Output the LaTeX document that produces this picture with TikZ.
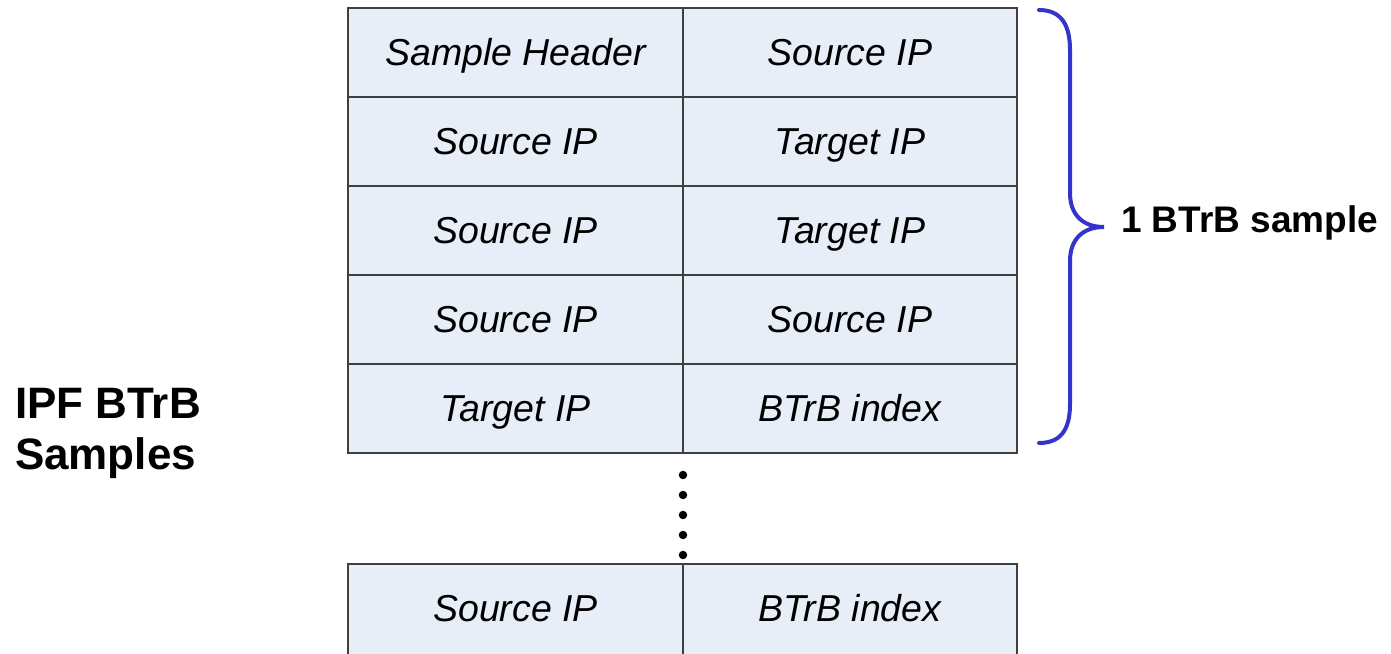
\documentclass[tikz,border=0pt]{standalone}
\usepackage{fontspec}
\setmainfont{Liberation Sans}
\definecolor{cellfill}{HTML}{E8EEF8}
\definecolor{cellline}{HTML}{3F3F3F}
\definecolor{bracecol}{HTML}{3434CC}
\begin{document}
\begin{tikzpicture}[x=1pt,y=-1pt,
  cell/.style={draw=cellline, fill=cellfill, line width=1.3pt, inner sep=0pt, outer sep=0pt,
    minimum height=89pt, anchor=north west, text height=26.5pt, text depth=0pt,
    font=\fontsize{37.5}{42}\selectfont\itshape},
  lcol/.style={cell, minimum width=335pt},
  rcol/.style={cell, minimum width=334pt},
  celltext/.style={inner sep=0pt, text height=26.5pt, text depth=0pt, font=\fontsize{37.5}{42}\selectfont\itshape},
  bigbold/.style={inner sep=0pt, outer sep=0pt, font=\fontsize{44}{51}\selectfont\bfseries},
  bracelbl/.style={inner sep=0pt, outer sep=0pt, font=\fontsize{37}{42}\selectfont\bfseries},
  dot/.style={circle, fill=black, inner sep=0pt, minimum size=8.5pt},
  bracepath/.style={draw=bracecol, line width=4pt, line cap=round}
]
\useasboundingbox (0,0) rectangle (1391,653);
\fill[white] (0,0) rectangle (1391,653);

% main table
\node[lcol] (r1a) at (348,8)   {Sample Header};
\node[rcol] (r1b) at (683,8)   {Source IP};
\node[lcol] (r2a) at (348,97)  {Source IP};
\node[rcol] (r2b) at (683,97)  {Target IP};
\node[lcol] (r3a) at (348,186) {Source IP};
\node[rcol] (r3b) at (683,186) {Target IP};
\node[lcol] (r4a) at (348,275) {Source IP};
\node[rcol] (r4b) at (683,275) {Source IP};
\node[lcol] (r5a) at (348,364) {Target IP};
\node[rcol] (r5b) at (683,364) {BTrB index};

% dots
\node[dot] (d1) at (683,475) {};
\node[dot] (d2) at (683,495) {};
\node[dot] (d3) at (683,515) {};
\node[dot] (d4) at (683,535) {};
\node[dot] (d5) at (683,555) {};

% bottom row (cut by the page edge)
\node[lcol, minimum height=120pt] (b1) at (348,564) {};
\node[rcol, minimum height=120pt] (b2) at (683,564) {};
\node[celltext] (b1t) at ([yshift=-44.5pt]b1.north) {Source IP};
\node[celltext] (b2t) at ([yshift=-44.5pt]b2.north) {BTrB index};

% brace
\coordinate (bt) at (1039,10);
\coordinate (bm) at (1104,227);
\coordinate (bb) at (1039,443);
\path[bracepath] (bt) .. controls (1062,10) and (1070,26) .. (1070,50)
  -- (1070,193) .. controls (1070,214) and (1082,227) .. (bm)
  .. controls (1082,227) and (1070,240) .. (1070,261)
  -- (1070,404) .. controls (1070,428) and (1062,443) .. (bb);

% labels
\node[bracelbl, anchor=base west] (lbl) at (1121,232) {1 BTrB sample};
\node[bigbold, align=left, anchor=west] (side) at (15,433) {IPF BTrB\\Samples};
\end{tikzpicture}
\end{document}
